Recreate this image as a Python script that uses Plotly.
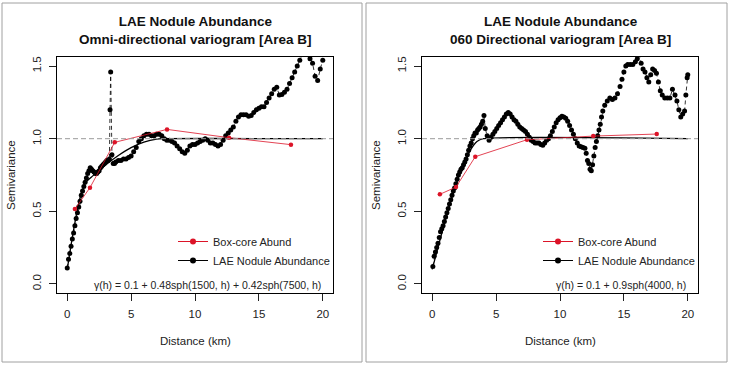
import plotly.graph_objects as go

# ---------------- data ----------------
# Left panel: Omni-directional variogram
omni_lag_km = [0.0, 0.1, 0.2, 0.3, 0.4, 0.5, 0.6, 0.7, 0.8, 0.9, 1.0, 1.1, 1.2, 1.3, 1.4, 1.5, 1.6, 1.7, 1.8, 1.9,
               2.0, 2.1, 2.2, 2.3, 2.4, 2.5, 2.6, 2.7, 2.8, 2.9, 3.0, 3.1, 3.2, 3.3, 3.35, 3.4, 3.5, 3.6, 3.7, 3.8,
               4.0, 4.2, 4.4, 4.6, 4.8, 5.0, 5.2, 5.4, 5.6, 5.8, 6.0, 6.2, 6.4, 6.6, 6.8, 7.0, 7.2, 7.4, 7.6, 7.8,
               8.0, 8.2, 8.4, 8.6, 8.8, 9.0, 9.2, 9.4, 9.6, 9.8, 10.0, 10.2, 10.4, 10.6, 10.8, 11.0, 11.2, 11.4,
               11.6, 11.8, 12.0, 12.2, 12.4, 12.6, 12.8, 13.0, 13.2, 13.4, 13.6, 13.8, 14.0, 14.2, 14.4, 14.6,
               14.8, 15.0, 15.2, 15.4, 15.6, 15.8, 16.0, 16.2, 16.4, 16.6, 16.8, 17.0, 17.2, 17.4, 17.6, 17.8,
               18.0, 18.2, 18.4, 18.6, 18.8, 19.0, 19.2, 19.4, 19.6, 19.8, 20.0]
omni_semivar = [0.11, 0.17, 0.21, 0.26, 0.31, 0.35, 0.40, 0.45, 0.49, 0.53, 0.57, 0.61, 0.64, 0.67, 0.70, 0.73,
                0.76, 0.78, 0.80, 0.79, 0.78, 0.77, 0.76, 0.76, 0.77, 0.78, 0.80, 0.81, 0.82, 0.83, 0.84, 0.85,
                0.85, 0.86, 1.20, 1.46, 0.89, 0.83, 0.83, 0.84, 0.85, 0.85, 0.86, 0.86, 0.87, 0.88, 0.91, 0.94,
                0.98, 1.00, 1.02, 1.03, 1.03, 1.02, 1.02, 1.03, 1.03, 1.02, 1.00, 0.99, 0.99, 0.98, 0.97, 0.95,
                0.93, 0.91, 0.90, 0.92, 0.95, 0.96, 0.96, 0.97, 0.98, 0.99, 1.00, 0.99, 0.97, 0.97, 0.96, 0.95,
                0.96, 0.99, 1.02, 1.04, 1.06, 1.08, 1.12, 1.15, 1.165, 1.165, 1.165, 1.155, 1.16, 1.18, 1.20,
                1.21, 1.22, 1.22, 1.25, 1.28, 1.31, 1.34, 1.355, 1.30, 1.305, 1.32, 1.34, 1.38, 1.42, 1.46,
                1.50, 1.54, 1.58, 1.64, 1.62, 1.55, 1.52, 1.43, 1.40, 1.48, 1.54]
omni_model_km = [0.0, 0.5, 1.0, 1.5, 2.0, 3.0, 4.0, 5.0, 6.0, 7.0, 7.5, 20.0]
omni_model_val = [0.10, 0.373, 0.592, 0.704, 0.744, 0.819, 0.884, 0.938, 0.976, 0.997, 1.0, 1.0]
omni_box_km = [0.60, 1.78, 3.72, 7.81, 12.66, 17.51]
omni_box_val = [0.516, 0.663, 0.975, 1.064, 1.007, 0.959]

# Right panel: 060 directional variogram
dir_lag_km = [0.05, 0.15, 0.25, 0.35, 0.45, 0.55, 0.65, 0.75, 0.85, 0.95, 1.05, 1.15, 1.25, 1.35, 1.45, 1.55,
              1.65, 1.75, 1.85, 1.95, 2.05, 2.15, 2.25, 2.35, 2.45, 2.55, 2.65, 2.75, 2.85, 2.95, 3.05, 3.15,
              3.25, 3.35, 3.45, 3.55, 3.65, 3.75, 3.85, 3.95, 4.05, 4.15, 4.3, 4.45, 4.6, 4.75, 4.9, 5.05, 5.2,
              5.35, 5.5, 5.65, 5.8, 5.95, 6.1, 6.25, 6.4, 6.55, 6.7, 6.85, 7.0, 7.15, 7.3, 7.45, 7.6, 7.75, 7.9,
              8.05, 8.2, 8.35, 8.5, 8.65, 8.8, 8.95, 9.1, 9.25, 9.4, 9.55, 9.7, 9.85, 10.0, 10.15, 10.3, 10.45,
              10.6, 10.75, 10.9, 11.05, 11.2, 11.35, 11.5, 11.65, 11.8, 11.95, 12.05, 12.15, 12.25, 12.35,
              12.45, 12.55, 12.65, 12.75, 12.85, 12.95, 13.05, 13.15, 13.25, 13.35, 13.5, 13.7, 13.9, 14.1,
              14.3, 14.5, 14.7, 14.85, 15.0, 15.15, 15.3, 15.5, 15.7, 15.9, 16.05, 16.2, 16.35, 16.5, 16.65,
              16.8, 16.95, 17.1, 17.25, 17.4, 17.55, 17.7, 17.85, 18.0, 18.2, 18.4, 18.6, 18.8, 19.0, 19.15,
              19.3, 19.45, 19.6, 19.75, 19.85, 19.95, 20.0]
dir_semivar = [0.12, 0.19, 0.22, 0.25, 0.28, 0.32, 0.36, 0.38, 0.40, 0.43, 0.46, 0.49, 0.52, 0.55, 0.58, 0.61,
               0.64, 0.66, 0.69, 0.72, 0.75, 0.77, 0.79, 0.80, 0.82, 0.84, 0.86, 0.89, 0.92, 0.95, 0.97, 1.00,
               1.02, 1.04, 1.04, 1.06, 1.07, 1.08, 1.10, 1.12, 1.16, 1.07, 1.02, 0.99, 1.01, 1.03, 1.05, 1.07,
               1.09, 1.11, 1.13, 1.15, 1.17, 1.18, 1.17, 1.15, 1.13, 1.12, 1.10, 1.08, 1.07, 1.06, 1.05, 1.03,
               1.01, 0.99, 0.98, 0.97, 0.97, 0.97, 0.96, 0.955, 0.97, 0.99, 1.00, 1.02, 1.05, 1.08, 1.11, 1.13,
               1.145, 1.155, 1.15, 1.14, 1.12, 1.09, 1.06, 1.03, 1.00, 0.97, 0.95, 0.945, 0.94, 0.935, 0.90,
               0.85, 0.83, 0.79, 0.78, 0.82, 0.88, 0.94, 0.98, 1.02, 1.06, 1.10, 1.15, 1.19, 1.23, 1.26, 1.28,
               1.27, 1.28, 1.31, 1.36, 1.41, 1.46, 1.50, 1.51, 1.51, 1.51, 1.53, 1.55, 1.58, 1.52, 1.48, 1.46,
               1.42, 1.39, 1.44, 1.48, 1.47, 1.45, 1.39, 1.33, 1.30, 1.28, 1.28, 1.28, 1.34, 1.30, 1.26, 1.20,
               1.15, 1.17, 1.19, 1.30, 1.42, 1.44]
dir_model_km = [0.0, 0.5, 1.0, 1.5, 2.0, 2.5, 3.0, 3.5, 4.0, 20.0]
dir_model_val = [0.10, 0.268, 0.430, 0.582, 0.719, 0.834, 0.923, 0.980, 1.0, 1.0]
dir_box_km = [0.60, 1.86, 3.37, 7.42, 12.60, 17.57]
dir_box_val = [0.617, 0.667, 0.876, 0.993, 1.018, 1.032]

x_ticks = [0, 5, 10, 15, 20]
y_ticks = [0.0, 0.5, 1.0, 1.5]
y_tick_text = ["0.0", "0.5", "1.0", "1.5"]
titles = ["<b>LAE Nodule Abundance<br>Omni-directional variogram [Area B]</b>",
          "<b>LAE Nodule Abundance<br>060 Directional variogram [Area B]</b>"]
formulas = ["γ(h) = 0.1 + 0.48sph(1500, h) + 0.42sph(7500, h)",
            "γ(h) = 0.1 + 0.9sph(4000, h)"]
legend_names = ["Box-core Abund", "LAE Nodule Abundance"]

# ---------------- style ----------------
W, H = 731, 365
FONT = "Liberation Sans, Arial, Helvetica, sans-serif"
RED = "#dc1428"
BLACK = "#000000"
TXT = "#222222"

panels = [
    dict(lag=omni_lag_km, sv=omni_semivar, mk=omni_model_km, mv=omni_model_val,
         bk=omni_box_km, bv=omni_box_val, left=57, right=333, formula_right=323, legend="legend"),
    dict(lag=dir_lag_km, sv=dir_semivar, mk=dir_model_km, mv=dir_model_val,
         bk=dir_box_km, bv=dir_box_val, left=422, right=698, formula_right=688, legend="legend2"),
]
top_px, bot_px = 57, 293

fig = go.Figure()
annotations = []
shapes = []
layout = {}

for i, p in enumerate(panels):
    xa = "x" if i == 0 else "x2"
    ya = "y" if i == 0 else "y2"
    xkey = "xaxis" if i == 0 else "xaxis2"
    ykey = "yaxis" if i == 0 else "yaxis2"

    # data points with dashed connecting line
    fig.add_trace(go.Scatter(x=p["lag"], y=p["sv"], mode="lines+markers", xaxis=xa, yaxis=ya,
                             line=dict(color=BLACK, width=0.8, dash="4px,3px"),
                             marker=dict(color=BLACK, size=5), showlegend=False, hoverinfo="skip"))
    # model line
    fig.add_trace(go.Scatter(x=p["mk"], y=p["mv"], mode="lines", xaxis=xa, yaxis=ya,
                             line=dict(color=BLACK, width=1.3, shape="spline", smoothing=0.6),
                             showlegend=False, hoverinfo="skip"))
    # box-core
    fig.add_trace(go.Scatter(x=p["bk"], y=p["bv"], mode="lines+markers", xaxis=xa, yaxis=ya,
                             line=dict(color=RED, width=0.8), marker=dict(color=RED, size=4.5),
                             showlegend=False, hoverinfo="skip"))
    # legend entries
    fig.add_trace(go.Scatter(x=[None], y=[None], mode="lines+markers", xaxis=xa, yaxis=ya,
                             line=dict(color=RED, width=1), marker=dict(color=RED, size=6),
                             name=legend_names[0], legend=p["legend"]))
    fig.add_trace(go.Scatter(x=[None], y=[None], mode="lines+markers", xaxis=xa, yaxis=ya,
                             line=dict(color=BLACK, width=1), marker=dict(color=BLACK, size=6),
                             name=legend_names[1], legend=p["legend"]))

    layout[xkey] = dict(domain=[p["left"] / W, p["right"] / W], anchor=ya, range=[-0.8, 20.8],
                        tickvals=x_ticks, ticks="outside", ticklen=7, tickcolor=TXT,
                        showline=True, mirror=True, linecolor=BLACK, linewidth=1,
                        showgrid=False, zeroline=False, ticklabelstandoff=3,
                        tickfont=dict(size=11.5, color=TXT, family=FONT))
    layout[ykey] = dict(domain=[(H - bot_px) / H, (H - top_px) / H], anchor=xa, range=[-0.0625, 1.5625],
                        tickvals=y_ticks, ticktext=y_tick_text, ticks="outside", ticklen=7,
                        tickcolor=TXT, tickangle=-90, showline=True, mirror=True,
                        linecolor=BLACK, linewidth=1, showgrid=False, zeroline=False,
                        ticklabelstandoff=3, tickfont=dict(size=11.5, color=TXT, family=FONT))

    # reference line at 1.0
    shapes.append(dict(type="line", xref=f"{xa} domain", yref=ya, x0=0, x1=1, y0=1, y1=1,
                       line=dict(color="#9a9a9a", width=1, dash="5px,3px"), layer="above"))

    cx = (p["left"] + p["right"]) / 2
    annotations.append(dict(text=titles[i], x=cx / W, y=(H - 31) / H, xref="paper", yref="paper",
                            showarrow=False, xanchor="center", yanchor="middle",
                            font=dict(size=13.5, color="#111", family=FONT)))
    annotations.append(dict(text="Distance (km)", x=cx / W, y=(H - 341) / H, xref="paper", yref="paper",
                            showarrow=False, xanchor="center", yanchor="middle",
                            font=dict(size=11.5, color=TXT, family=FONT)))
    annotations.append(dict(text="Semivariance", x=(p["left"] - 46) / W, y=(H - 175) / H,
                            xref="paper", yref="paper", showarrow=False, textangle=-90,
                            xanchor="center", yanchor="middle",
                            font=dict(size=11.5, color=TXT, family=FONT)))
    annotations.append(dict(text=formulas[i], x=p["formula_right"] / W, y=(H - 285) / H,
                            xref="paper", yref="paper", showarrow=False, xanchor="right",
                            yanchor="middle", font=dict(size=10.5, color=TXT, family=FONT)))
    # outer panel frames
    x0 = 2 if i == 0 else 366
    x1 = 362 if i == 0 else 727
    shapes.append(dict(type="rect", xref="paper", yref="paper", x0=x0 / W, x1=x1 / W,
                       y0=(H - 362) / H, y1=(H - 3) / H, line=dict(color="#a0a0a0", width=1)))

leg_common = dict(bgcolor="rgba(0,0,0,0)", borderwidth=0, xanchor="left", yanchor="top",
                  font=dict(size=11, color=TXT, family=FONT), itemwidth=30, tracegroupgap=0)
layout["legend"] = dict(x=173 / W, y=(H - 227) / H, **leg_common)
layout["legend2"] = dict(x=538 / W, y=(H - 227) / H, **leg_common)

fig.update_layout(width=W, height=H, margin=dict(l=0, r=0, t=0, b=0),
                  paper_bgcolor="white", plot_bgcolor="white",
                  font=dict(family=FONT), annotations=annotations, shapes=shapes,
                  showlegend=True, **layout)

fig.write_html("out.html", config={"displayModeBar": False},
               post_script="document.body.style.margin='0';")
